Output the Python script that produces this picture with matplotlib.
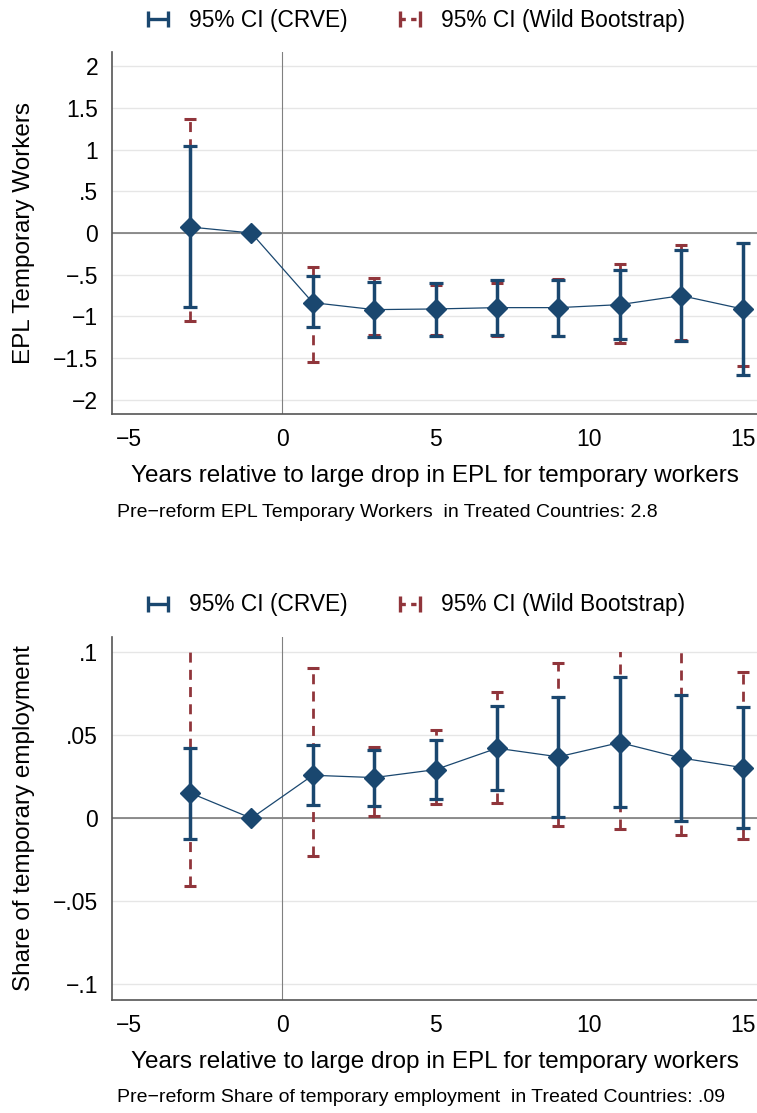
import numpy as np
import matplotlib
matplotlib.use("Agg")
import matplotlib.pyplot as plt
from matplotlib.lines import Line2D
from matplotlib.patches import Rectangle

plt.rcParams['font.family'] = ['Liberation Sans', 'DejaVu Sans']
plt.rcParams['axes.unicode_minus'] = True

NAVY = '#1a476f'
MAROON = '#90353b'

years = [-3, -1, 1, 3, 5, 7, 9, 11, 13, 15]

# Panel 1: EPL for temporary workers
epl_coef = [0.072, 0.0, -0.836, -0.92, -0.912, -0.896, -0.896, -0.86, -0.752, -0.912]
epl_crve_lo = [-0.888, np.nan, -1.132, -1.244, -1.236, -1.22, -1.24, -1.276, -1.296, -1.70]
epl_crve_hi = [1.04, np.nan, -0.52, -0.592, -0.596, -0.568, -0.56, -0.44, -0.204, -0.116]
epl_wild_lo = [-1.052, np.nan, -1.552, -1.22, -1.22, -1.24, -1.236, -1.316, -1.28, -1.60]
epl_wild_hi = [1.372, np.nan, -0.408, -0.544, -0.62, -0.596, -0.552, -0.376, -0.148, -0.12]

# Panel 2: share of temporary employment
sh_coef = [0.0153, 0.0, 0.0259, 0.0245, 0.0293, 0.0422, 0.037, 0.0456, 0.0363, 0.0305]
sh_crve_lo = [-0.0123, np.nan, 0.0078, 0.0076, 0.0114, 0.0169, 0.0006, 0.0066, -0.0016, -0.006]
sh_crve_hi = [0.0426, np.nan, 0.0442, 0.0414, 0.0474, 0.0675, 0.0733, 0.0851, 0.0741, 0.0671]
sh_wild_lo = [-0.0406, np.nan, -0.0225, 0.0012, 0.0088, 0.0094, -0.0046, -0.0064, -0.010, -0.0125]
sh_wild_hi = [0.115, np.nan, 0.0908, 0.043, 0.053, 0.0763, 0.0936, 0.118, 0.125, 0.088]

epl_ticks = [-2, -1.5, -1, -0.5, 0, 0.5, 1, 1.5, 2]
epl_ticklabels = ['\u22122', '\u22121.5', '\u22121', '\u2212.5', '0', '.5', '1', '1.5', '2']
sh_ticks = [-0.1, -0.05, 0, 0.05, 0.1]
sh_ticklabels = ['\u2212.1', '\u2212.05', '0', '.05', '.1']
x_ticks = [-5, 0, 5, 10, 15]
x_ticklabels = ['\u22125', '0', '5', '10', '15']

xlabel = 'Years relative to large drop in EPL for temporary workers'
legend_labels = ['95% CI (CRVE)', '95% CI (Wild Bootstrap)']

W, H = 757, 1113
fig = plt.figure(figsize=(W / 100, H / 100), dpi=100)


def draw_panel(ax, coef, crve_lo, crve_hi, wild_lo, wild_hi, yticks, yticklabels,
               ylim, ylabel, legend_y, clip_to=None):
    x = np.array(years, dtype=float)
    c = np.array(coef)
    ax.set_xlim(-5.54, 15.47)
    ax.set_ylim(*ylim)
    ax.set_yticks(yticks)
    ax.set_yticklabels(yticklabels)
    ax.set_xticks(x_ticks)
    ax.set_xticklabels(x_ticklabels)
    ax.tick_params(length=0, labelsize=16.5, pad=10)
    ax.yaxis.grid(True, color='#e6e6e6', lw=1.0)
    ax.set_axisbelow(True)
    for s in ['top', 'right']:
        ax.spines[s].set_visible(False)
    for s in ['left', 'bottom']:
        ax.spines[s].set_color('#555555')
        ax.spines[s].set_linewidth(1.2)
    ax.axhline(0, color='#707070', lw=1.1, zorder=1)
    ax.axvline(0, color='#808080', lw=0.8, zorder=1)

    wl = np.array(wild_lo)
    wh = np.array(wild_hi)
    eb_w = ax.errorbar(x, c, yerr=[c - wl, wh - c], fmt='none', ecolor=MAROON,
                       elinewidth=2.0, capsize=4.2, capthick=2.2, zorder=2)
    eb_w[2][0].set_linestyle((0, (3.6, 2.6)))
    cl = np.array(crve_lo)
    ch = np.array(crve_hi)
    eb_c = ax.errorbar(x, c, yerr=[c - cl, ch - c], fmt='none', ecolor=NAVY,
                       elinewidth=2.5, capsize=5.0, capthick=2.3, zorder=3)
    ax.plot(x, c, color=NAVY, lw=0.9, marker='D', markersize=10,
            markerfacecolor=NAVY, markeredgecolor=NAVY, zorder=4)

    if clip_to is not None:
        rect = Rectangle((-10, clip_to[0]), 40, clip_to[1] - clip_to[0],
                         transform=ax.transData, visible=False)
        ax.add_patch(rect)
        for art in list(eb_w[1]) + list(eb_w[2]) + list(eb_c[1]) + list(eb_c[2]):
            art.set_clip_path(rect)

    ax.set_ylabel(ylabel, fontsize=17.5, labelpad=13)
    ax.set_xlabel(xlabel, fontsize=17.5, labelpad=10)

    handles = [
        Line2D([0], [0], color=NAVY, lw=2.4, marker='|', markersize=11,
               markeredgewidth=2.4, solid_capstyle='butt'),
        Line2D([0], [0], color=MAROON, lw=2.4, marker='|', markersize=11,
               markeredgewidth=2.4, linestyle=(0, (1.6, 1.6))),
    ]
    fig.legend(handles, legend_labels, ncol=2, loc='center',
               bbox_to_anchor=(413 / W, 1 - legend_y / H), bbox_transform=fig.transFigure,
               frameon=False, fontsize=16.4, numpoints=2, handlelength=1.5,
               handletextpad=0.6, columnspacing=2.0, borderaxespad=0.0)


ax1 = fig.add_axes([112 / W, 1 - 414 / H, 1 - 112 / W, 362 / H])
draw_panel(ax1, epl_coef, epl_crve_lo, epl_crve_hi, epl_wild_lo, epl_wild_hi,
           epl_ticks, epl_ticklabels, (-2.173, 2.173), 'EPL Temporary Workers', 20)
fig.text(117 / W, 1 - 513 / H,
         'Pre\u2212reform EPL Temporary Workers  in Treated Countries: 2.8',
         fontsize=14, va='center', ha='left')

ax2 = fig.add_axes([112 / W, 1 - 1000 / H, 1 - 112 / W, 363 / H])
draw_panel(ax2, sh_coef, sh_crve_lo, sh_crve_hi, sh_wild_lo, sh_wild_hi,
           sh_ticks, sh_ticklabels, (-0.1095, 0.1092), 'Share of temporary employment',
           605, clip_to=(-0.1, 0.1))
fig.text(117 / W, 1 - 1098 / H,
         'Pre\u2212reform Share of temporary employment  in Treated Countries: .09',
         fontsize=14, va='center', ha='left')

fig.savefig('out.png', dpi=100)
